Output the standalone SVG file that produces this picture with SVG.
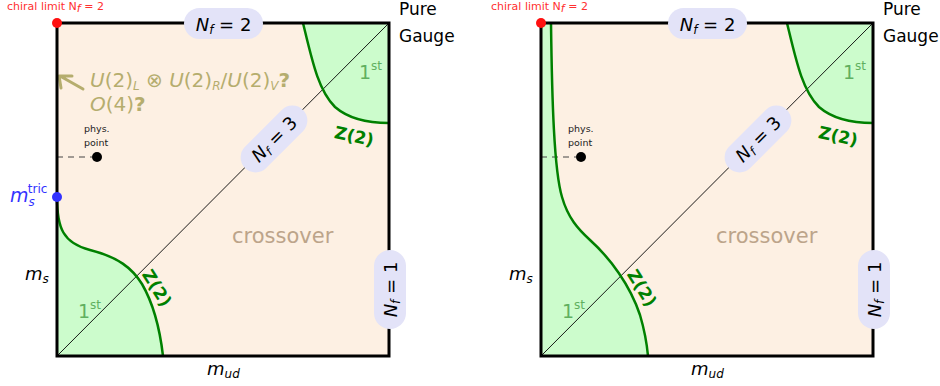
<svg xmlns="http://www.w3.org/2000/svg" width="940" height="386" viewBox="0 0 940 386">
<style>
text{font-family:"DejaVu Sans","Liberation Sans",sans-serif}
.bg{fill:#fdf0e3}
.gr{fill:#ccfccc;stroke:none}
.gl{fill:none;stroke:#008000;stroke-width:2.5}
.diag{stroke:#000;stroke-width:0.9}
.frame{fill:none;stroke:#000;stroke-width:3}
.pill{fill:#e3e3f8}
.lbl{font-size:18px;fill:#000}
.it{font-style:italic}
.sub{font-size:12px;font-style:italic}
.first{font-size:19px;fill:#60b060}
.sup{font-size:12px}
.z2{font-size:17px;font-weight:bold;fill:#008000}
.cross{font-size:21px;fill:#bca48a}
.red{font-size:11px;fill:#ff3030}
.phys{font-size:9.5px;fill:#222}
.olive{font-size:20px;fill:#b5ad6e}
.pg{font-size:17px;fill:#000}
</style>

<!-- panel backgrounds and green regions -->
<g id="left-panel">
<rect class="bg" x="57" y="23" width="332" height="333"/>
<path class="gr" d="M57,197 C57,228 63,243 90,250 C118,257 132,268 142,284 C153,303 160,330 163,356 L57,356 Z"/>
<path class="gr" d="M303,23 C312,60 318,90 335,107 C350,120 370,123 389,123 L389,23 Z"/>
</g>
<g id="right-panel">
<rect class="bg" x="541" y="23" width="332" height="333"/>
<path class="gr" d="M551,23 C552,100 554,170 562,197 C568,218 578,229 590,240 C610,258 630,285 640,315 C645,332 647,345 648,356 L541,356 L541,23 Z"/>
<path class="gr" d="M787,23 C796,60 802,90 819,107 C834,120 854,123 873,123 L873,23 Z"/>
</g>

<g id="connectors">
<line class="diag" x1="57" y1="356" x2="389" y2="23"/>
<line class="diag" x1="541" y1="356" x2="873" y2="23"/>
<line x1="57" y1="157" x2="92" y2="157" stroke="#444" stroke-width="1" stroke-dasharray="6,5"/>
<line x1="541" y1="157" x2="576" y2="157" stroke="#444" stroke-width="1" stroke-dasharray="6,5"/>
<path d="M83,89 L60,76 M59,76 L72,76 M59,76 L61,88" fill="none" stroke="#b5ad6e" stroke-width="3" stroke-linecap="round"/>
</g>

<g id="boundaries">
<path class="gl" d="M57,197 C57,228 63,243 90,250 C118,257 132,268 142,284 C153,303 160,330 163,356"/>
<path class="gl" d="M303,23 C312,60 318,90 335,107 C350,120 370,123 389,123"/>
<path class="gl" d="M551,23 C552,100 554,170 562,197 C568,218 578,229 590,240 C610,258 630,285 640,315 C645,332 647,345 648,356"/>
<path class="gl" d="M787,23 C796,60 802,90 819,107 C834,120 854,123 873,123"/>
<rect class="frame" x="57" y="23" width="332" height="333"/>
<rect class="frame" x="541" y="23" width="332" height="333"/>
</g>

<!-- LEFT LABELS -->
<g id="l-chiral"><circle cx="57" cy="23" r="5" fill="#ff1010"/><text class="red" x="7" y="10">chiral limit N<tspan class="it" dy="2">f</tspan><tspan dy="-2"> = 2</tspan></text></g>
<g id="l-nf2"><rect class="pill" x="184" y="8" width="79" height="31" rx="15.5"/><text class="lbl" x="223.5" y="31" text-anchor="middle"><tspan class="it">N</tspan><tspan class="sub" dy="3">f</tspan><tspan dy="-3"> = 2</tspan></text></g>
<g id="l-pure"><text class="pg" x="399" y="15">Pure</text><text class="pg" x="399" y="42">Gauge</text></g>
<g id="l-1st-top"><text class="first" x="359" y="79">1<tspan class="sup" dy="-9">st</tspan></text></g>
<g id="l-z2-top"><text class="z2" transform="translate(353,142) rotate(12)" text-anchor="middle">Z(2)</text></g>
<g id="l-nf3"><g transform="translate(274,139) rotate(-45)"><rect class="pill" x="-41" y="-15" width="82" height="30" rx="15"/><text class="lbl" x="0" y="6.5" text-anchor="middle"><tspan class="it">N</tspan><tspan class="sub" dy="3">f</tspan><tspan dy="-3"> = 3</tspan></text></g></g>
<g id="l-nf1"><g transform="translate(390,289.5) rotate(-90)"><rect class="pill" x="-39.5" y="-16" width="79" height="32" rx="16"/><text class="lbl" x="0" y="6.5" text-anchor="middle"><tspan class="it">N</tspan><tspan class="sub" dy="3">f</tspan><tspan dy="-3"> = 1</tspan></text></g></g>
<g id="l-cross"><text class="cross" x="232" y="243">crossover</text></g>
<g id="l-1st-bot"><text class="first" x="78" y="318">1<tspan class="sup" dy="-9">st</tspan></text></g>
<g id="l-z2-bot"><text class="z2" transform="translate(157,288) rotate(58)" text-anchor="middle" dy="6">Z(2)</text></g>
<g id="l-mud"><text class="lbl" x="207" y="375"><tspan class="it">m</tspan><tspan class="sub" dy="3">ud</tspan></text></g>
<g id="l-ms"><text class="lbl" x="25" y="280"><tspan class="it">m</tspan><tspan class="sub" dy="3">s</tspan></text></g>
<g id="l-phys"><circle cx="97" cy="157" r="5" fill="#000"/><text class="phys" x="84" y="132">phys.</text><text class="phys" x="84" y="146">point</text></g>
<g id="l-tric"><circle cx="57" cy="197" r="5" fill="#3333ff"/><text x="10" y="202" style="font-size:19px;fill:#3333ff"><tspan class="it">m</tspan><tspan class="sub" dy="4">s</tspan><tspan style="font-size:12px" dx="-7" dy="-13">tric</tspan></text></g>
<g id="l-sym"><text class="olive" x="90" y="87"><tspan class="it">U</tspan>(2)<tspan class="sub" dy="3">L</tspan><tspan dy="-3"> ⊗ </tspan><tspan class="it">U</tspan>(2)<tspan class="sub" dy="3">R</tspan><tspan dy="-3">/</tspan><tspan class="it">U</tspan>(2)<tspan class="sub" dy="3">V</tspan><tspan dy="-3" font-weight="bold">?</tspan></text><text class="olive" x="90" y="111"><tspan class="it">O</tspan>(4)<tspan font-weight="bold">?</tspan></text></g>

<!-- RIGHT LABELS -->
<g id="r-chiral"><circle cx="541" cy="23" r="5" fill="#ff1010"/><text class="red" x="491" y="10">chiral limit N<tspan class="it" dy="2">f</tspan><tspan dy="-2"> = 2</tspan></text></g>
<g id="r-nf2"><rect class="pill" x="668" y="8" width="79" height="31" rx="15.5"/><text class="lbl" x="707.5" y="31" text-anchor="middle"><tspan class="it">N</tspan><tspan class="sub" dy="3">f</tspan><tspan dy="-3"> = 2</tspan></text></g>
<g id="r-pure"><text class="pg" x="883" y="15">Pure</text><text class="pg" x="883" y="42">Gauge</text></g>
<g id="r-1st-top"><text class="first" x="843" y="79">1<tspan class="sup" dy="-9">st</tspan></text></g>
<g id="r-z2-top"><text class="z2" transform="translate(837,142) rotate(12)" text-anchor="middle">Z(2)</text></g>
<g id="r-nf3"><g transform="translate(758,139) rotate(-45)"><rect class="pill" x="-41" y="-15" width="82" height="30" rx="15"/><text class="lbl" x="0" y="6.5" text-anchor="middle"><tspan class="it">N</tspan><tspan class="sub" dy="3">f</tspan><tspan dy="-3"> = 3</tspan></text></g></g>
<g id="r-nf1"><g transform="translate(874,289.5) rotate(-90)"><rect class="pill" x="-39.5" y="-16" width="79" height="32" rx="16"/><text class="lbl" x="0" y="6.5" text-anchor="middle"><tspan class="it">N</tspan><tspan class="sub" dy="3">f</tspan><tspan dy="-3"> = 1</tspan></text></g></g>
<g id="r-cross"><text class="cross" x="716" y="243">crossover</text></g>
<g id="r-1st-bot"><text class="first" x="562" y="318">1<tspan class="sup" dy="-9">st</tspan></text></g>
<g id="r-z2-bot"><text class="z2" transform="translate(642,288) rotate(58)" text-anchor="middle" dy="6">Z(2)</text></g>
<g id="r-mud"><text class="lbl" x="691" y="375"><tspan class="it">m</tspan><tspan class="sub" dy="3">ud</tspan></text></g>
<g id="r-ms"><text class="lbl" x="509" y="280"><tspan class="it">m</tspan><tspan class="sub" dy="3">s</tspan></text></g>
<g id="r-phys"><circle cx="581" cy="157" r="5" fill="#000"/><text class="phys" x="568" y="132">phys.</text><text class="phys" x="568" y="146">point</text></g>
</svg>
